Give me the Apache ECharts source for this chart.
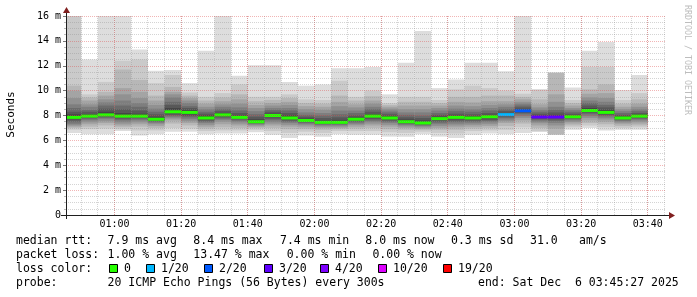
<!DOCTYPE html>
<html><head><meta charset="utf-8">
<script src="https://cdn.jsdelivr.net/npm/echarts@6/dist/echarts.min.js"></script>
<style>html,body{margin:0;padding:0;background:#fff}#c{width:697px;height:297px}</style>
</head><body><div id="c"></div>
<script>
// time axis in minutes after midnight: 00:45:27 .. 03:45:27
const axisStart = 45.45;
const axisEnd = 225.45;
const binMinutes = 5;
const binStarts = [45,50,55,60,65,70,75,80,85,90,95,100,105,110,115,120,125,130,135,140,145,150,155,160,165,170,175,180,185,190,195,200,205,210,215];
const medians = [7.85,7.95,8.05,7.95,7.95,7.7,8.3,8.25,7.8,8.05,7.85,7.5,8.0,7.8,7.6,7.45,7.45,7.7,7.95,7.8,7.5,7.4,7.75,7.85,7.8,7.9,8.07,8.38,7.88,7.88,7.9,8.4,8.25,7.8,7.95];
const lossIdx = [0,0,0,0,0,0,0,0,0,0,0,0,0,0,0,0,0,0,0,0,0,0,0,0,0,0,1,2,3,3,0,0,0,0,0];
// sorted ping RTTs (ms) per 5-minute bin; null = lost ping
const pings = [
 [6.6,6.85,7.0,7.1,7.2,7.3,7.45,7.6,7.75,7.82,7.88,8.1,8.3,8.6,8.9,9.4,10.0,10.4,16.4,17.5],
 [6.5,6.9,7.1,7.3,7.45,7.6,7.7,7.8,7.88,7.93,7.97,8.1,8.3,8.45,8.7,8.9,9.2,9.45,9.7,12.5],
 [6.5,6.95,7.2,7.4,7.55,7.7,7.8,7.9,7.98,8.03,8.07,8.3,8.55,8.8,9.05,9.3,9.6,9.9,10.7,16.6],
 [6.75,6.9,7.05,7.2,7.35,7.5,7.65,7.75,7.88,7.93,7.97,8.2,8.5,8.8,9.2,9.7,10.2,11.7,12.4,16.8],
 [6.4,6.8,7.1,7.3,7.45,7.6,7.7,7.8,7.88,7.93,7.97,8.15,8.4,8.7,9.0,9.4,9.9,10.85,12.5,13.3],
 [6.5,6.8,7.0,7.15,7.3,7.4,7.5,7.58,7.65,7.68,7.72,7.9,8.1,8.3,8.55,8.85,9.2,9.6,10.6,11.6],
 [6.7,7.0,7.35,7.6,7.75,7.85,7.95,8.05,8.2,8.27,8.33,8.6,8.85,9.1,9.45,9.7,9.9,10.3,11.25,11.65],
 [6.7,6.95,7.2,7.4,7.55,7.7,7.85,7.95,8.1,8.22,8.28,8.45,8.6,8.75,9.0,9.2,9.4,9.6,9.85,10.6],
 [6.5,6.75,6.95,7.1,7.25,7.4,7.5,7.6,7.7,7.77,7.83,8.0,8.15,8.3,8.5,8.7,8.95,9.2,9.5,13.2],
 [6.55,6.8,7.05,7.3,7.5,7.65,7.75,7.85,7.95,8.02,8.08,8.2,8.35,8.5,8.7,8.9,9.15,9.45,9.8,16.5],
 [6.55,6.8,7.0,7.2,7.35,7.5,7.6,7.7,7.78,7.83,7.87,8.0,8.2,8.4,8.65,8.95,9.3,9.7,10.5,11.2],
 [6.65,6.85,7.0,7.1,7.2,7.28,7.35,7.4,7.45,7.48,7.52,7.7,7.9,8.1,8.35,8.6,8.85,9.15,9.5,12.05],
 [6.45,6.75,7.0,7.2,7.35,7.5,7.65,7.75,7.9,7.97,8.03,8.15,8.3,8.45,8.6,8.8,9.0,9.25,9.5,12.05],
 [6.2,6.6,6.9,7.1,7.25,7.4,7.5,7.6,7.7,7.77,7.83,8.0,8.2,8.4,8.6,8.85,9.1,9.4,9.7,10.7],
 [6.4,6.7,6.9,7.05,7.2,7.3,7.4,7.48,7.55,7.58,7.62,7.75,7.9,8.05,8.25,8.5,8.75,9.0,9.3,10.4],
 [6.3,6.6,6.85,7.0,7.1,7.2,7.28,7.35,7.4,7.43,7.47,7.6,7.8,8.0,8.2,8.45,8.7,8.95,9.25,10.5],
 [6.5,6.75,6.9,7.0,7.1,7.2,7.28,7.35,7.4,7.43,7.47,7.65,7.85,8.1,8.4,8.75,9.1,9.6,10.8,11.8],
 [6.45,6.75,6.95,7.1,7.25,7.35,7.45,7.55,7.63,7.68,7.72,7.85,8.0,8.2,8.4,8.65,8.9,9.2,9.5,11.8],
 [6.45,6.75,7.0,7.2,7.35,7.5,7.6,7.72,7.85,7.93,7.97,8.1,8.3,8.5,8.7,8.95,9.2,9.55,10.0,11.9],
 [6.3,6.65,6.9,7.1,7.25,7.4,7.5,7.6,7.7,7.77,7.83,7.95,8.1,8.25,8.4,8.55,8.7,8.85,9.0,9.7],
 [6.3,6.6,6.85,7.0,7.12,7.22,7.3,7.38,7.45,7.48,7.52,7.68,7.85,8.05,8.25,8.5,8.8,9.1,9.5,12.25],
 [6.5,6.7,6.85,6.95,7.05,7.15,7.22,7.3,7.35,7.38,7.42,7.6,7.8,8.0,8.25,8.5,8.8,9.1,9.5,14.8],
 [6.3,6.6,6.85,7.0,7.15,7.3,7.42,7.52,7.65,7.72,7.78,7.9,8.05,8.2,8.4,8.6,8.8,9.0,9.25,10.2],
 [6.2,6.55,6.85,7.05,7.2,7.35,7.48,7.6,7.72,7.82,7.88,8.0,8.15,8.35,8.55,8.8,9.1,9.5,10.1,10.9],
 [6.45,6.75,6.95,7.1,7.25,7.38,7.5,7.6,7.7,7.77,7.83,7.95,8.1,8.3,8.5,8.75,9.05,9.5,10.4,12.25],
 [6.55,6.8,7.0,7.15,7.3,7.45,7.55,7.65,7.78,7.87,7.93,8.05,8.2,8.4,8.6,8.85,9.15,9.6,10.2,12.25],
 [6.5,6.85,7.15,7.4,7.55,7.68,7.8,7.9,7.98,8.04,8.1,8.2,8.35,8.5,8.7,8.9,9.15,9.6,10.0,11.55],
 [6.6,7.05,7.35,7.6,7.8,7.95,8.1,8.2,8.3,8.35,8.41,8.52,8.65,8.8,8.95,9.1,9.3,9.5,9.75,16.6],
 [6.55,6.7,7.0,7.2,7.38,7.5,7.62,7.72,7.8,7.85,7.9,8.0,8.15,8.3,8.45,8.65,8.9,9.3,10.1,null],
 [6.3,6.4,6.45,6.95,7.2,7.4,7.55,7.68,7.8,7.85,7.91,8.05,8.25,8.45,8.7,9.1,9.7,11.45,null,null],
 [6.85,7.05,7.2,7.35,7.48,7.6,7.7,7.78,7.85,7.88,7.92,8.02,8.15,8.3,8.45,8.6,8.8,9.0,9.25,10.25],
 [7.0,7.2,7.4,7.6,7.8,7.95,8.1,8.22,8.32,8.38,8.42,8.6,8.8,9.0,9.2,9.45,9.75,10.1,11.9,13.2],
 [6.8,7.05,7.3,7.5,7.68,7.82,7.95,8.05,8.15,8.22,8.28,8.45,8.65,8.85,9.1,9.4,9.8,10.5,11.9,13.9],
 [6.85,7.0,7.15,7.3,7.42,7.52,7.6,7.68,7.75,7.78,7.82,7.92,8.05,8.2,8.35,8.5,8.7,8.95,9.25,10.05],
 [6.85,7.05,7.2,7.35,7.5,7.62,7.72,7.8,7.88,7.93,7.97,8.08,8.2,8.35,8.5,8.7,8.95,9.3,9.8,11.25]
];
const lossColors = ['#26ff00','#00b8ff','#0059ff','#5e00ff','#7e00ff','#dd00ff','#ff0000'];
const lossLabels = ['0','1/20','2/20','3/20','4/20','10/20','19/20'];
const xTickValues = [60,80,100,120,140,160,180,200,220];
const xTickLabels = ['01:00','01:20','01:40','02:00','02:20','02:40','03:00','03:20','03:40'];
const xMinorValues = [50,55,60,65,70,75,80,85,90,95,100,105,110,115,120,125,130,135,140,145,150,155,160,165,170,175,180,185,190,195,200,205,210,215,220,225];
const rttLabel = 'median rtt:';
const rttStats = ['7.9 ms avg','8.4 ms max','7.4 ms min','8.0 ms now','0.3 ms sd','31.0','am/s'];
const lossLabel = 'packet loss:';
const lossStats = ['1.00 % avg','13.47 % max','0.00 % min','0.00 % now'];
const lossColorLabel = 'loss color:';
const probeLabel = 'probe:';
const probeText = '20 ICMP Echo Pings (56 Bytes) every 300s';
const endText = 'end: Sat Dec  6 03:45:27 2025';
const yUnitLabel = 'Seconds';
const watermark = 'RRDTOOL / TOBI OETIKER';

// smoke shades (outer -> inner)
const smokeGrays = [221,202,183,164,145,126,107,88,69,50];

const smokeData = [];
for (let k = 0; k < 10; k++) {
  for (let i = 0; i < binStarts.length; i++) {
    const lo = pings[i][k], hi = pings[i][19 - k];
    if (lo == null || hi == null) continue;
    smokeData.push([binStarts[i], binStarts[i] + binMinutes, lo, hi, k]);
  }
}
const medianData = binStarts.map((s, i) => [s, s + binMinutes, medians[i], lossIdx[i]]);

const MONO = '"DejaVu Sans Mono", monospace';
const MAJOR_GRID = 'rgba(222,79,79,0.42)';
const MINOR_GRID = 'rgba(143,143,143,0.38)';
const chart = echarts.init(document.getElementById('c'));

function vline(color) {
  return function (params, api) {
    const p = api.coord([api.value(0), 0]);
    const t = api.coord([api.value(0), 16]);
    const x = Math.floor(p[0]) + 0.5;
    return { type: 'line', shape: { x1: x, y1: t[1], x2: x, y2: p[1] },
      style: { stroke: color, lineWidth: 1, lineDash: [1, 1] } };
  };
}

const graphics = [];
function txt(s, x, y, extra) {
  graphics.push(Object.assign({ type: 'text', x: x, y: y, z: 30,
    style: { text: s, x: 0, y: 0, font: '11.5px ' + MONO, fill: '#000',
      textAlign: 'left', textVerticalAlign: 'middle', align: 'left', verticalAlign: 'middle' } }, extra || {}));
}
// axes lines + arrows
graphics.push({ type: 'line', z: 30, shape: { x1: 61, y1: 215.5, x2: 670, y2: 215.5 }, style: { stroke: '#1f1f1f', lineWidth: 1 } });
graphics.push({ type: 'line', z: 30, shape: { x1: 66.5, y1: 219, x2: 66.5, y2: 12 }, style: { stroke: '#1f1f1f', lineWidth: 1 } });
graphics.push({ type: 'polygon', z: 31, shape: { points: [[63, 13], [70, 13], [66.5, 7]] }, style: { fill: '#801f1f' } });
graphics.push({ type: 'polygon', z: 31, shape: { points: [[669, 212], [669, 219], [675, 215.5]] }, style: { fill: '#801f1f' } });
// legend
txt(rttLabel, 16, 241);
[107.6, 193.3, 280, 365.3, 451, 530, 579].forEach((x, i) => txt(rttStats[i], x, 241));
txt(lossLabel, 16, 255);
[107.6, 193.3, 286.7, 372.4].forEach((x, i) => txt(lossStats[i], x, 255));
txt(lossColorLabel, 16, 269);
[109, 146, 204, 264, 320, 378, 443].forEach((x, i) => {
  graphics.push({ type: 'rect', z: 30, shape: { x: x + 0.5, y: 264.5, width: 8, height: 8 },
    style: { fill: lossColors[i], stroke: '#000', lineWidth: 1 } });
  txt(lossLabels[i], x + 15, 269);
});
txt(probeLabel, 16, 283.5);
txt(probeText, 107.6, 283.5);
txt(endText, 478, 283.5);
// unit label + watermark
graphics.push({ type: 'text', x: 11, y: 114.5, rotation: Math.PI / 2, z: 30,
  style: { text: yUnitLabel, x: 0, y: 0, font: '11px ' + MONO, fill: '#000',
    textAlign: 'center', textVerticalAlign: 'middle', align: 'center', verticalAlign: 'middle' } });
graphics.push({ type: 'text', x: 687.5, y: 60, rotation: -Math.PI / 2, z: 30,
  style: { text: watermark, x: 0, y: 0, font: '8.3px ' + MONO, fill: '#bdbdbd',
    textAlign: 'center', textVerticalAlign: 'middle', align: 'center', verticalAlign: 'middle' } });

chart.setOption({
  animation: false,
  backgroundColor: '#ffffff',
  grid: { left: 66, right: 31, top: 16, bottom: 82, containLabel: false },
  xAxis: {
    type: 'value', min: axisStart, max: axisEnd, z: 10,
    axisLine: { show: false }, axisTick: { show: false }, splitLine: { show: false },
    axisLabel: {
      show: true, customValues: xTickValues, margin: 4,
      fontFamily: MONO, fontSize: 10, color: '#000',
      formatter: v => { const i = xTickValues.indexOf(Math.round(v)); return i >= 0 ? xTickLabels[i] : ''; }
    }
  },
  yAxis: {
    type: 'value', min: 0, max: 16, interval: 2, z: 10,
    axisLine: { show: false },
    axisTick: { show: true, length: 3, lineStyle: { color: '#777' } },
    minorTick: { show: true, splitNumber: 4, length: 2, lineStyle: { color: '#bbb' } },
    axisLabel: { margin: 5, fontFamily: MONO, fontSize: 10, color: '#000',
      formatter: v => v === 0 ? '0' : v + ' m' },
    splitLine: { show: true, lineStyle: { color: MAJOR_GRID, width: 1, type: [1, 1] } },
    minorSplitLine: { show: true, lineStyle: { color: MINOR_GRID, width: 1, type: [1, 1] } }
  },
  graphic: { elements: graphics },
  series: [
    {
      type: 'custom', name: 'smoke', z: 2, silent: true, clip: true,
      encode: { x: [0, 1], y: [2, 3] },
      data: smokeData,
      renderItem: (params, api) => {
        const p0 = api.coord([api.value(0), api.value(3)]);
        const p1 = api.coord([api.value(1), api.value(2)]);
        const g = smokeGrays[api.value(4)];
        return { type: 'rect', shape: { x: p0[0], y: p0[1], width: p1[0] - p0[0], height: p1[1] - p0[1] },
          style: { fill: 'rgb(' + g + ',' + g + ',' + g + ')' } };
      }
    },
    {
      type: 'custom', name: 'median', z: 3, silent: true, clip: true,
      encode: { x: [0, 1], y: 2 },
      data: medianData,
      renderItem: (params, api) => {
        const p0 = api.coord([api.value(0), api.value(2)]);
        const p1 = api.coord([api.value(1), api.value(2)]);
        return { type: 'rect', shape: { x: p0[0], y: p0[1] - 1.5, width: p1[0] - p0[0], height: 3 },
          style: { fill: lossColors[api.value(3)] } };
      }
    },
    {
      type: 'custom', name: 'minorGrid', z: 8, silent: true, clip: true,
      data: xMinorValues.map(v => [v, 0]),
      renderItem: vline(MINOR_GRID)
    },
    {
      type: 'custom', name: 'majorGrid', z: 9, silent: true, clip: true,
      data: xTickValues.map(v => [v, 0]),
      renderItem: vline(MAJOR_GRID)
    }
  ]
});
</script>
</body></html>
